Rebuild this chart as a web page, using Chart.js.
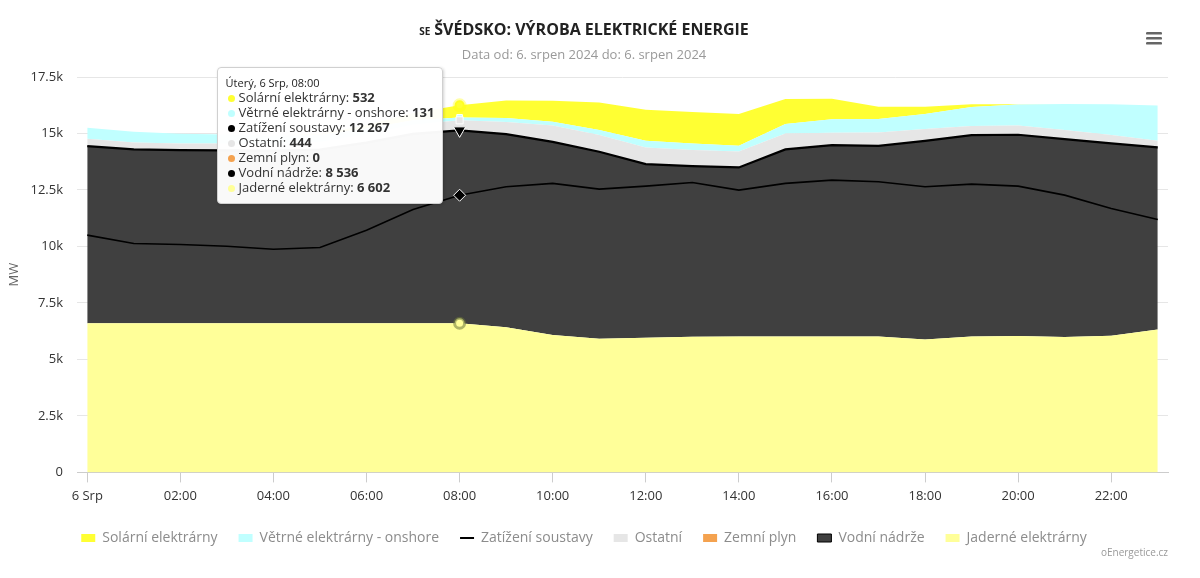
<!DOCTYPE html>
<html lang="cs">
<head>
<meta charset="utf-8">
<title>Švédsko: výroba elektrické energie</title>
<script src="https://cdn.jsdelivr.net/npm/chart.js@4.4.1/dist/chart.umd.min.js"></script>
<style>
    html, body { margin: 0; padding: 0; background: #fff; }
    #wadah { position: relative; width: 1200px; height: 578px; }
    #tooltip-luar {
        position: absolute;
        background: rgba(255, 255, 255, 0.97);
        border: 1px solid #d0d0d0;
        border-radius: 4px;
        box-shadow: 1px 1px 3px rgba(0, 0, 0, 0.18);
        padding: 7px 8px 8px 8px;
        font-family: "Open Sans", sans-serif;
        color: #333;
        white-space: nowrap;
        pointer-events: none;
    }
    #tooltip-luar .tt-judul { font-size: 11px; line-height: 15px; color: #222; }
    #tooltip-luar .tt-baris { font-size: 13px; line-height: 15px; }
    #tooltip-luar .titik {
        display: inline-block; width: 7px; height: 7px; border-radius: 50%;
        margin: 0 4px 1px 2px; vertical-align: middle;
    }
</style>
</head>
<body>
<div id="wadah"><canvas id="grafik"></canvas></div>
<script>
// Jam dalam sehari (6. srpen 2024)
const jam = [0, 1, 2, 3, 4, 5, 6, 7, 8, 9, 10, 11, 12, 13, 14, 15, 16, 17, 18, 19, 20, 21, 22, 23];
const jamTick   = [0, 2, 4, 6, 8, 10, 12, 14, 16, 18, 20, 22];
const labelTick = ['6 Srp', '02:00', '04:00', '06:00', '08:00', '10:00', '12:00', '14:00', '16:00', '18:00', '20:00', '22:00'];
const tickY     = [0, 2500, 5000, 7500, 10000, 12500, 15000, 17500];

// Nilai seri (MW)
const jaderne  = [6602, 6602, 6602, 6602, 6602, 6602, 6602, 6602, 6602, 6420, 6080, 5920, 5960, 6000, 6010, 6010, 6010, 6010, 5880, 6010, 6040, 5990, 6050, 6320];
const vodni    = [7840, 7694, 7663, 7650, 7630, 7690, 7990, 8380, 8536, 8553, 8550, 8270, 7684, 7556, 7488, 8286, 8476, 8445, 8797, 8919, 8903, 8762, 8510, 8064];
const plyn     = [0, 0, 0, 0, 0, 0, 0, 0, 0, 0, 0, 0, 0, 0, 0, 0, 0, 0, 0, 0, 0, 0, 0, 0];
const ostatni  = [325, 300, 290, 300, 310, 330, 370, 410, 444, 530, 720, 740, 735, 710, 708, 708, 545, 589, 520, 400, 410, 400, 370, 300];
const vetrne   = [490, 480, 430, 400, 370, 320, 260, 190, 131, 180, 170, 220, 300, 290, 253, 415, 594, 595, 665, 840, 930, 1150, 1360, 1550];
const solarni  = [0, 0, 0, 0, 5, 40, 150, 330, 532, 780, 930, 1225, 1370, 1400, 1404, 1110, 916, 544, 325, 120, 10, 0, 0, 0];
const zatizeni = [10500, 10130, 10087, 10012, 9879, 9953, 10720, 11640, 12267, 12640, 12790, 12537, 12670, 12833, 12493, 12790, 12936, 12862, 12640, 12758, 12670, 12271, 11682, 11195];

const kodeNegara = 'SE';
const judul      = 'ŠVÉDSKO: VÝROBA ELEKTRICKÉ ENERGIE';
const subjudul   = 'Data od: 6. srpen 2024 do: 6. srpen 2024';
const kredit     = 'oEnergetice.cz';
const hariTitel  = 'Úterý, 6 Srp';
const indeksSorot = 8;

// Urutan legenda & tooltip (indeks dataset)
const urutanLegenda = [5, 4, 6, 3, 2, 1, 0];

const FONT = '"Open Sans", sans-serif';

function formatAngka(v) {
    return String(Math.round(v)).replace(/\B(?=(\d{3})+(?!\d))/g, ' ');
}

function formatJam(h) {
    return (h < 10 ? '0' : '') + h + ':00';
}

// Judul, menu & kredit digambar manual
const pluginJudul = {
    id: 'judul',
    afterDraw(chart) {
        const ctx = chart.ctx;
        const tengah = (chart.width - 32) / 2;
        ctx.save();
        ctx.textBaseline = 'middle';
        ctx.textAlign = 'left';
        ctx.fillStyle = '#222';
        ctx.font = 'bold 10px ' + FONT;
        const wKode = ctx.measureText(kodeNegara).width;
        ctx.font = 'bold 16px ' + FONT;
        const wJudul = ctx.measureText(judul).width;
        let x = tengah - (wKode + 4 + wJudul) / 2;
        ctx.font = 'bold 10px ' + FONT;
        ctx.fillText(kodeNegara, x, 32);
        ctx.font = 'bold 16px ' + FONT;
        ctx.fillText(judul, x + wKode + 4, 30);

        ctx.textAlign = 'center';
        ctx.fillStyle = '#999';
        ctx.font = '13px ' + FONT;
        ctx.fillText(subjudul, tengah, 55);

        ctx.textAlign = 'right';
        ctx.font = '10px ' + FONT;
        ctx.fillText(kredit, chart.chartArea.right, 553);

        // ikon menu
        ctx.fillStyle = '#666';
        [32, 37, 42].forEach(y => {
            ctx.beginPath();
            ctx.roundRect(1146, y, 16, 2.6, 1.2);
            ctx.fill();
        });
        ctx.restore();
    }
};

function tooltipLuar(context) {
    const {chart, tooltip} = context;
    let el = document.getElementById('tooltip-luar');
    if (!el) {
        el = document.createElement('div');
        el.id = 'tooltip-luar';
        document.getElementById('wadah').appendChild(el);
    }
    if (tooltip.opacity === 0 || !tooltip.dataPoints || !tooltip.dataPoints.length) {
        el.style.opacity = 0;
        return;
    }
    const idx = tooltip.dataPoints[0].dataIndex;
    let html = `<div class="tt-judul">${hariTitel}, ${formatJam(jam[idx])}</div>`;
    urutanLegenda.forEach(di => {
        const ds = chart.data.datasets[di];
        const warna = ds.borderWidth > 0 ? ds.borderColor : ds.backgroundColor;
        html += `<div class="tt-baris"><span class="titik" style="background:${warna}"></span>` +
                `${ds.label}: <b>${formatAngka(ds.data[idx])}</b></div>`;
    });
    el.innerHTML = html;
    el.style.opacity = 1;
    const x = chart.scales.x.getPixelForValue(jam[idx]);
    el.style.left = (x - 16 - el.offsetWidth) + 'px';
    el.style.top = (chart.chartArea.top - 10) + 'px';
}

const dataset = [
    {
        label: 'Jaderné elektrárny', data: jaderne, stack: 'vyroba', fill: 'origin',
        backgroundColor: '#ffff99', borderColor: '#ffff99', borderWidth: 0,
        pointStyle: 'circle', pointHoverRadius: 5, pointHoverBackgroundColor: '#ffff99',
        pointHoverBorderColor: 'rgba(110,120,60,0.55)', pointHoverBorderWidth: 3
    },
    {
        label: 'Vodní nádrže', data: vodni, stack: 'vyroba', fill: '-1',
        backgroundColor: '#404040', borderColor: '#000000', borderWidth: 2.2,
        pointStyle: 'triangle', pointRotation: 180, pointHoverRadius: 7,
        pointHoverBackgroundColor: '#000', pointHoverBorderColor: '#fff', pointHoverBorderWidth: 1
    },
    {
        label: 'Zemní plyn', data: plyn, stack: 'vyroba', fill: '-1',
        backgroundColor: '#f4a24f', borderColor: '#f4a24f', borderWidth: 0,
        pointHoverRadius: 0
    },
    {
        label: 'Ostatní', data: ostatni, stack: 'vyroba', fill: '-1',
        backgroundColor: '#e6e6e6', borderColor: '#e6e6e6', borderWidth: 0,
        pointStyle: 'rect', pointHoverRadius: 5, pointHoverBackgroundColor: '#e6e6e6',
        pointHoverBorderColor: '#fff', pointHoverBorderWidth: 1
    },
    {
        label: 'Větrné elektrárny - onshore', data: vetrne, stack: 'vyroba', fill: '-1',
        backgroundColor: '#c0ffff', borderColor: '#c0ffff', borderWidth: 0,
        pointStyle: 'rect', pointHoverRadius: 4, pointHoverBackgroundColor: '#c0ffff',
        pointHoverBorderColor: '#fff', pointHoverBorderWidth: 1
    },
    {
        label: 'Solární elektrárny', data: solarni, stack: 'vyroba', fill: '-1',
        backgroundColor: '#ffff33', borderColor: '#ffff33', borderWidth: 0,
        pointStyle: 'circle', pointHoverRadius: 5, pointHoverBackgroundColor: '#ffff33',
        pointHoverBorderColor: 'rgba(255,255,0,0.35)', pointHoverBorderWidth: 4
    },
    {
        label: 'Zatížení soustavy', data: zatizeni, stack: 'zatizeni', fill: false, order: -1,
        backgroundColor: '#000000', borderColor: '#000000', borderWidth: 1.6,
        pointStyle: 'rectRot', pointHoverRadius: 6,
        pointHoverBackgroundColor: '#000', pointHoverBorderColor: '#fff', pointHoverBorderWidth: 1
    }
];

const ctx = document.getElementById('grafik').getContext('2d');
const grafik = new Chart(ctx, {
    type: 'line',
    data: { labels: jam, datasets: dataset },
    plugins: [pluginJudul],
    options: {
        responsive: true,
        maintainAspectRatio: false,
        animation: false,
        events: [],
        layout: { padding: { top: 77, right: 32, left: 0, bottom: 23 } },
        elements: {
            line: { tension: 0 },
            point: { radius: 0, hitRadius: 0 }
        },
        interaction: { mode: 'index', intersect: false },
        plugins: {
            legend: {
                position: 'bottom',
                labels: {
                    usePointStyle: true,
                    pointStyleWidth: 14,
                    boxHeight: 8,
                    padding: 21,
                    color: '#8c8c8c',
                    font: { family: FONT, size: 14 },
                    sort: (a, b) => urutanLegenda.indexOf(a.datasetIndex) - urutanLegenda.indexOf(b.datasetIndex),
                    generateLabels(chart) {
                        const items = Chart.defaults.plugins.legend.labels.generateLabels(chart);
                        items.forEach(it => {
                            const ds = chart.data.datasets[it.datasetIndex];
                            if (ds.fill === false) {
                                it.pointStyle = 'line';
                                it.strokeStyle = ds.borderColor;
                                it.lineWidth = 2;
                            } else {
                                it.pointStyle = 'rect';
                                it.fillStyle = ds.backgroundColor;
                                it.strokeStyle = ds.borderWidth > 0 ? ds.borderColor : ds.backgroundColor;
                                it.lineWidth = ds.borderWidth > 0 ? 1 : 0;
                            }
                            it.rotation = 0;
                        });
                        return items;
                    }
                }
            },
            tooltip: {
                enabled: false,
                external: tooltipLuar
            }
        },
        scales: {
            x: {
                type: 'linear',
                min: -0.22,
                max: 23.22,
                afterBuildTicks: axis => { axis.ticks = jamTick.map(v => ({ value: v })); },
                ticks: {
                    color: '#333',
                    padding: 6,
                    maxRotation: 0,
                    font: { family: FONT, size: 13 },
                    callback: v => labelTick[jamTick.indexOf(v)]
                },
                grid: { drawOnChartArea: false, drawTicks: true, tickLength: 10, color: '#cccccc' },
                border: { color: '#cccccc' }
            },
            y: {
                stacked: true,
                min: 0,
                max: 17500,
                afterFit: scale => { scale.width = 77; },
                afterBuildTicks: axis => { axis.ticks = tickY.map(v => ({ value: v })); },
                ticks: {
                    color: '#333',
                    padding: 14,
                    font: { family: FONT, size: 13 },
                    callback: v => v === 0 ? '0' : (v / 1000) + 'k'
                },
                grid: { color: '#e6e6e6', drawTicks: false },
                border: { display: false },
                title: { display: true, text: 'MW', color: '#666', font: { family: FONT, size: 13 }, padding: { top: 6 } }
            }
        }
    }
});

// Sorot titik jam 08:00 seperti pada gambar
const aktif = grafik.data.datasets.map((ds, i) => ({ datasetIndex: i, index: indeksSorot }));
grafik.setActiveElements(aktif);
grafik.tooltip.setActiveElements(aktif, { x: 0, y: 0 });
grafik.update();
</script>
</body>
</html>
